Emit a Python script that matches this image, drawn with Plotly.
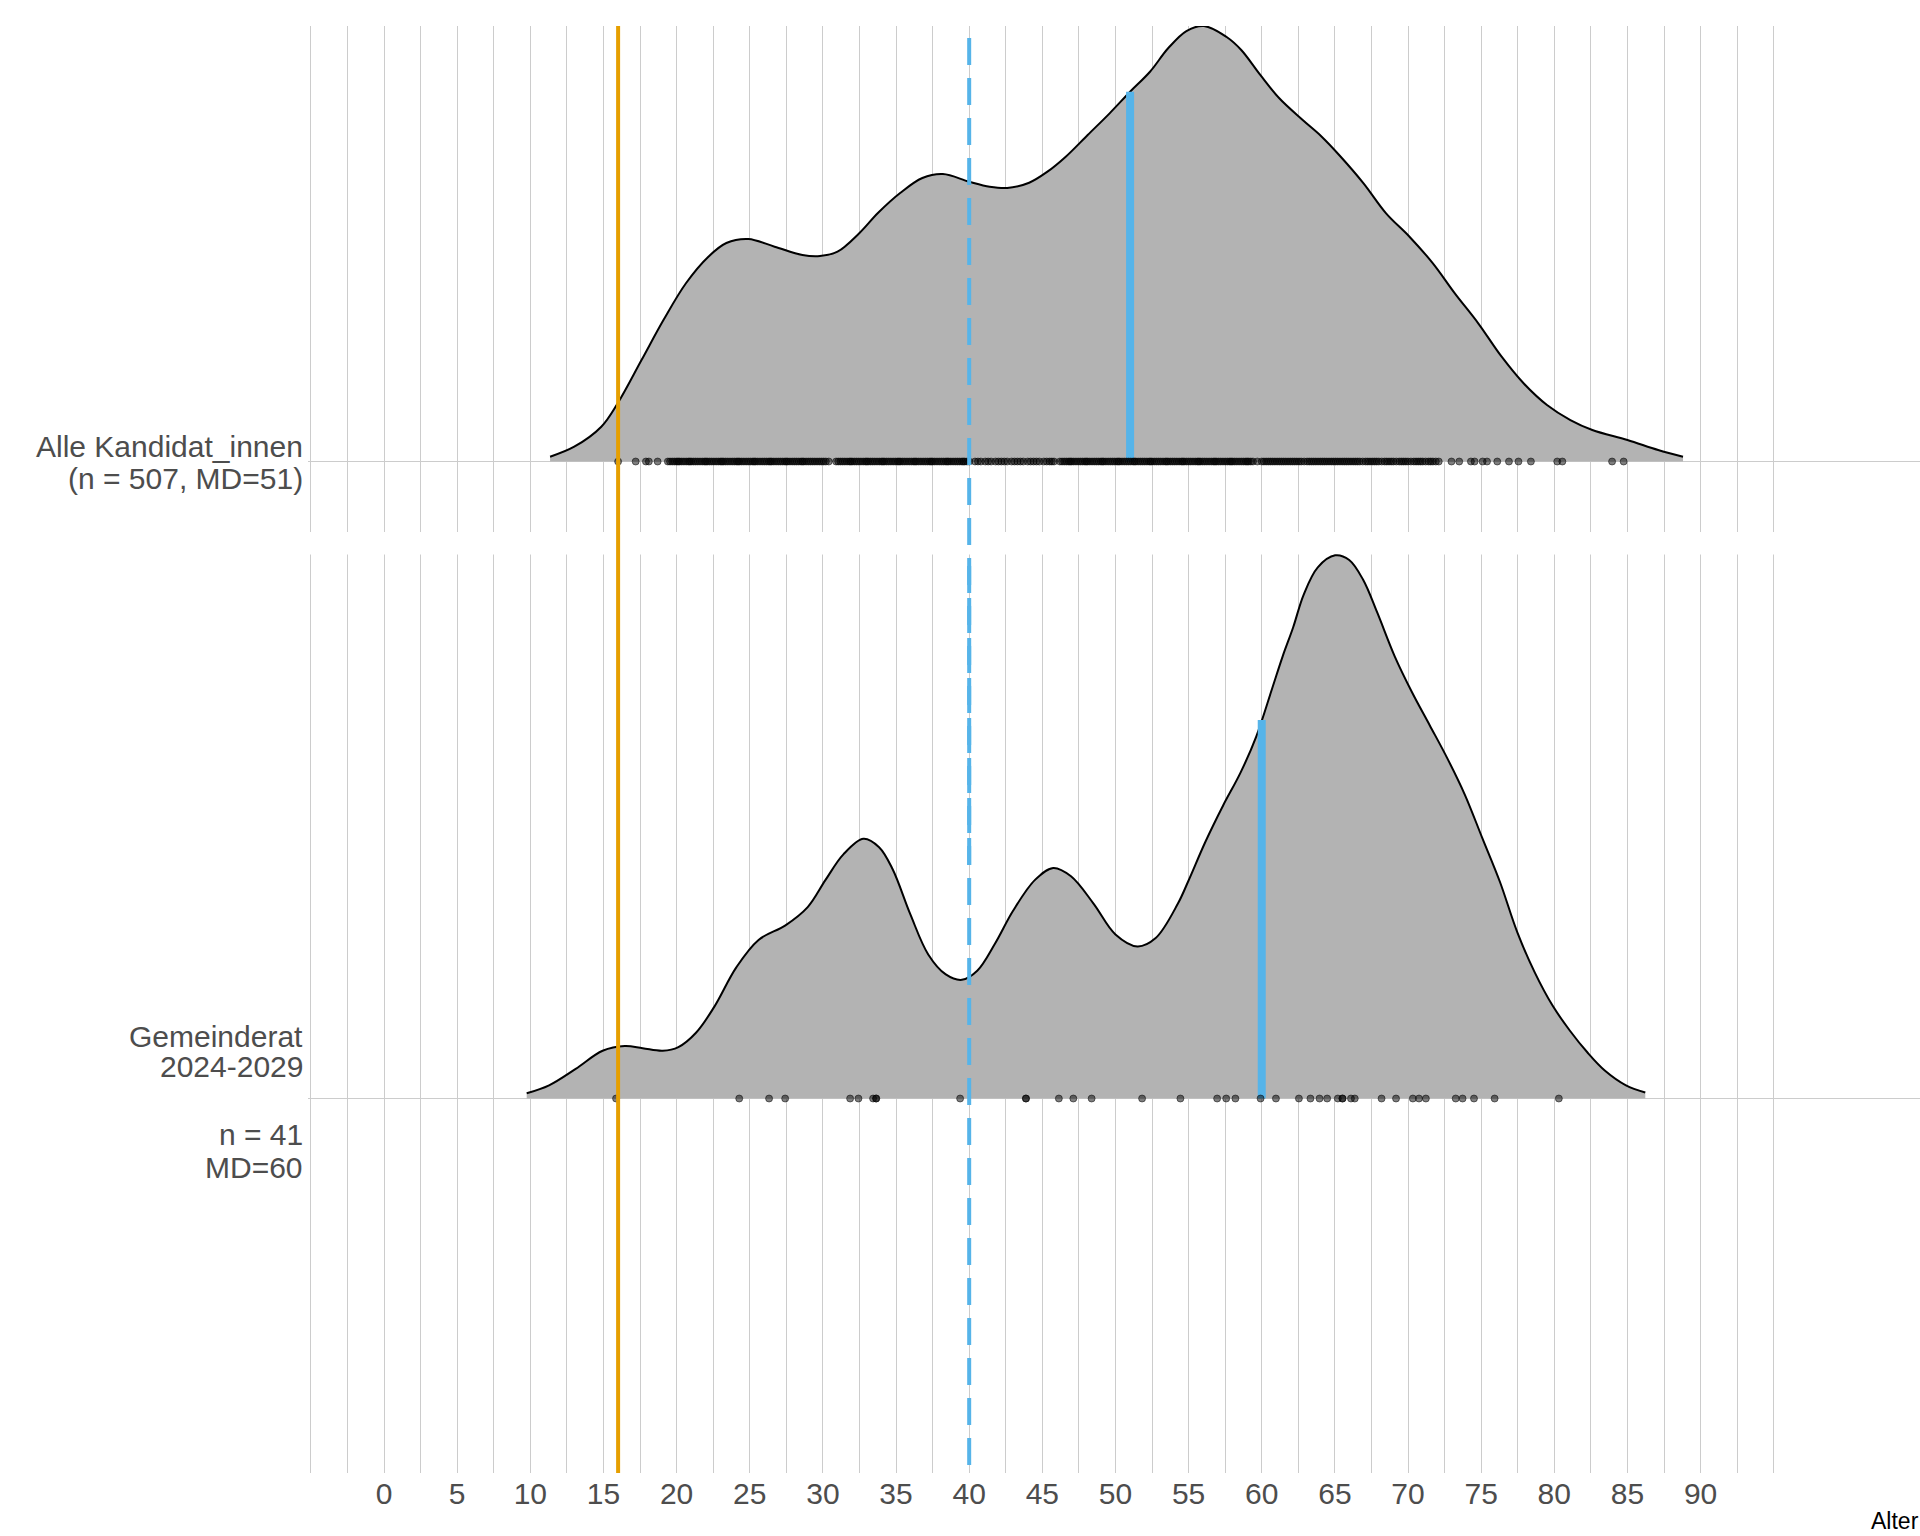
import numpy as np
import plotly.graph_objects as go

# ---------------- data ----------------
groups = ["Alle Kandidat_innen", "Gemeinderat 2024-2029"]
group_baseline = [2, 1]
label_lines_alle = ["Alle Kandidat_innen", "(n = 507, MD=51)"]
label_lines_gr = ["Gemeinderat", "2024-2029", "n = 41", "MD=60"]
label_pos_alle = [2.024, 1.974]
label_pos_gr = [1.098, 1.051, 0.943, 0.892]
medians = [51, 60]
ref_young = 16
ref_mid = 40

# density curve (ridge height in y-units) - Alle Kandidat_innen
age_alle = [11.35, 13.0, 14.85, 15.98, 17.6, 19.1, 20.65, 22.17, 23.4, 24.9, 26.7, 28.6,
            29.8, 31.0, 32.5, 33.76, 35.28, 36.8, 38.2, 40.0, 41.4, 42.6, 44.1, 45.35,
            46.6, 48.1, 49.6, 51.0, 52.36, 53.6, 54.85, 56.05, 57.6, 58.6, 59.9, 61.2,
            62.8, 64.1, 65.4, 66.96, 68.5, 70.1, 71.7, 73.2, 74.8, 76.4, 77.9, 79.5,
            81.1, 82.6, 85.0, 87.1, 88.8]
dens_alle = [0.0075, 0.0232, 0.0546, 0.0918, 0.1593, 0.2221, 0.2802, 0.3215, 0.343,
             0.3493, 0.3372, 0.3242, 0.3226, 0.3294, 0.3587, 0.3901, 0.4215, 0.4451,
             0.4513, 0.4393, 0.4314, 0.4294, 0.4377, 0.455, 0.4785, 0.5126, 0.5466,
             0.5805, 0.6119, 0.6487, 0.6758, 0.6837, 0.6664, 0.646, 0.6068, 0.5702,
             0.5361, 0.5099, 0.4785, 0.4367, 0.3896, 0.3529, 0.3111, 0.264, 0.217,
             0.1645, 0.1228, 0.0887, 0.0651, 0.0495, 0.0338, 0.0181, 0.0075]

# density curve - Gemeinderat 2024-2029
age_gr = [9.75, 11.28, 13.1, 14.94, 16.46, 17.68, 19.05, 20.12, 21.34, 22.56, 24.09,
          25.6, 27.44, 28.96, 30.18, 31.4, 32.77, 33.84, 34.76, 35.98, 37.2, 38.4, 39.5,
          40.55, 41.77, 43.0, 44.5, 45.74, 46.96, 48.5, 50.0, 51.5, 52.75, 54.27, 54.96,
          56.15, 57.36, 58.55, 59.63, 60.7, 61.43, 62.15, 62.87, 63.83, 65.02, 65.98,
          66.94, 67.9, 69.09, 70.29, 71.49, 72.68, 73.88, 75.08, 76.28, 77.48, 78.67,
          79.87, 81.07, 82.27, 83.47, 84.9, 86.22]
dens_gr = [0.0082, 0.0207, 0.0465, 0.075, 0.0824, 0.079, 0.075, 0.0807, 0.1036, 0.1435,
           0.2063, 0.249, 0.2719, 0.3005, 0.3432, 0.3832, 0.4077, 0.3945, 0.3603, 0.289,
           0.2262, 0.1948, 0.1863, 0.2005, 0.2433, 0.2947, 0.3432, 0.362, 0.349, 0.3061,
           0.2576, 0.2388, 0.252, 0.3061, 0.3403, 0.4031, 0.4601, 0.5116, 0.5686, 0.6429,
           0.6942, 0.7399, 0.7912, 0.8339, 0.8527, 0.8454, 0.814, 0.7626, 0.6942, 0.637,
           0.5857, 0.5344, 0.4772, 0.4088, 0.3403, 0.2604, 0.1976, 0.1463, 0.1064, 0.0722,
           0.0436, 0.0207, 0.0094]

# individual ages (rug points)
points_alle = [16.0, 17.2, 17.9, 18.1, 18.7,
               19.4, 19.7, 20.0, 20.2, 20.5, 20.8, 21.0, 21.3, 21.6, 21.9, 22.1, 22.4,
               22.7, 23.0, 23.2, 23.5, 23.8, 24.1, 24.3, 24.6, 24.9, 25.2, 25.4, 25.7,
               26.0, 26.3, 26.5, 26.8, 27.1, 27.4, 27.6, 27.9, 28.2, 28.5, 28.7, 29.0,
               29.3, 29.6, 29.9, 30.2, 30.4,
               30.9, 31.2, 31.5, 31.8, 32.0, 32.3, 32.6, 32.9, 33.1, 33.4, 33.7, 34.0,
               34.2, 34.5, 34.8, 35.1, 35.3, 35.6, 35.9, 36.2, 36.4, 36.7, 37.0, 37.3,
               37.5, 37.8, 38.1, 38.4, 38.6, 38.9, 39.2, 39.5, 39.7, 40.0,
               40.4, 40.8, 41.1, 41.5, 41.8, 42.2, 42.6, 42.9, 43.3, 43.7, 44.0, 44.4,
               44.8, 45.1, 45.5, 45.8,
               40.6, 41.3, 42.0, 42.4, 43.1, 43.5, 44.2, 44.6, 45.3, 45.65,
               46.2, 46.5, 46.8, 47.0, 47.3, 47.6, 47.9, 48.1, 48.4, 48.7, 49.0, 49.2,
               49.5, 49.8, 50.1, 50.3, 50.6, 50.9, 51.2, 51.4, 51.7, 52.0, 52.3, 52.5,
               52.8, 53.1, 53.4, 53.6, 53.9, 54.2, 54.5, 54.7, 55.0, 55.3, 55.6, 55.8,
               56.1, 56.4, 56.7, 56.9, 57.2, 57.5, 57.8, 58.0, 58.3, 58.6, 58.9, 59.1,
               59.4, 59.7, 60.0, 60.3, 60.6, 60.9, 61.2, 61.5, 61.8, 62.1, 62.4, 62.7,
               63.1, 63.4, 63.7, 64.0, 64.3, 64.6, 64.9, 65.2, 65.5, 65.8, 66.1, 66.4,
               66.7, 67.1, 67.4, 67.7, 68.0, 68.4, 68.7, 69.0, 69.4, 69.7, 70.0, 70.4,
               70.7, 71.0, 71.4, 71.7, 72.1,
               72.97, 73.5, 74.3, 74.55, 75.1, 75.4, 76.1, 76.9, 77.55, 78.4, 80.2, 80.55,
               83.95, 84.74,
               19.55, 19.85, 20.1, 20.35, 20.65, 20.9, 21.15, 21.45, 21.75, 22.0, 22.25,
               22.55, 22.85, 23.1, 23.35, 23.65, 23.95, 24.2, 24.45, 24.75, 25.05, 25.3,
               25.55, 25.85, 26.15, 26.4, 26.65, 26.95, 27.25, 27.5, 27.75, 28.05, 28.35,
               28.6, 28.85, 29.15, 29.45, 29.75, 30.05,
               31.05, 31.35, 31.65, 31.9, 32.15, 32.45, 32.75, 33.0, 33.25, 33.55, 33.85,
               34.1, 34.35, 34.65, 34.95, 35.2, 35.45, 35.75, 36.05, 36.3, 36.55, 36.85,
               37.15, 37.4, 37.65, 37.95, 38.25, 38.5, 38.75, 39.05, 39.35, 39.6, 39.85,
               46.35, 46.65, 46.9, 47.15, 47.45, 47.75, 48.0, 48.25, 48.55, 48.85, 49.1,
               49.35, 49.65, 49.95, 50.2, 50.45, 50.75, 51.05, 51.3, 51.55, 51.85, 52.15,
               52.4, 52.65, 52.95, 53.25, 53.5, 53.75, 54.05, 54.35, 54.6, 54.85, 55.15,
               55.45, 55.7, 55.95, 56.25, 56.55, 56.8, 57.05, 57.35, 57.65, 57.9, 58.15,
               58.45, 58.75, 59.0, 59.25,
               60.15, 60.45, 60.75, 61.05, 61.35, 61.65, 61.95, 62.25, 62.55, 62.9, 63.25,
               63.55, 63.85, 64.15, 64.45, 64.75, 65.05, 65.35, 65.65, 65.95, 66.25, 66.55,
               66.9, 67.25, 67.55, 67.85, 68.2, 68.55, 68.85, 69.2, 69.55, 69.85, 70.2,
               70.55, 70.85, 71.2, 71.55, 71.9]
points_gr = [15.86, 24.28, 26.32, 27.42, 31.86, 32.43, 33.43, 33.64, 33.64, 39.38, 43.88,
             43.88, 46.13, 47.12, 48.37, 51.82, 54.44, 56.95, 57.57, 58.2, 59.92, 60.97,
             62.54, 63.33, 63.95, 64.47, 65.2, 65.52, 65.52, 66.1, 66.36, 68.19, 69.18,
             70.33, 70.75, 71.22, 73.26, 73.73, 74.51, 75.92, 80.31]

# ---------------- styles ----------------
FONT = "Liberation Sans, Arial, sans-serif"
GRID = "#cccccc"
RIDGE_FILL = "#B3B3B3"
BLUE = "#56B4E9"
ORANGE = "#E69F00"
TXT = "#4D4D4D"

X0, X1 = -5.2, 105.0
PLOT_L, PLOT_W = 308, 1612

fig = go.Figure()

ridges = [(age_alle, dens_alle, points_alle), (age_gr, dens_gr, points_gr)]
for (xs, ds, pts), base, med in zip(ridges, group_baseline, medians):
    fig.add_trace(go.Scatter(x=[xs[0], xs[-1]], y=[base, base], mode="lines",
                             line=dict(width=0, color="rgba(0,0,0,0)"), hoverinfo="skip"))
    fig.add_trace(go.Scatter(x=xs, y=[base + d for d in ds], mode="lines", fill="tonexty",
                             fillcolor=RIDGE_FILL,
                             line=dict(color="black", width=2, shape="spline", smoothing=1.0),
                             hoverinfo="skip"))
    top = base + float(np.interp(med, xs, ds))
    fig.add_trace(go.Scatter(x=[med, med], y=[base, top], mode="lines",
                             line=dict(color=BLUE, width=8), hoverinfo="skip"))
    fig.add_trace(go.Scatter(x=pts, y=[base] * len(pts), mode="markers",
                             marker=dict(size=7, color="rgba(0,0,0,0.5)",
                                         line=dict(color="rgba(0,0,0,0.5)", width=1)),
                             hoverinfo="skip"))

# white band interrupting vertical grid lines (as in the reference)
fig.add_shape(type="rect", xref="x", yref="y", x0=-5.3, x1=95.3, y0=1.854, y1=1.8893,
              fillcolor="white", line=dict(width=0), layer="between")

# reference lines
fig.add_shape(type="line", xref="x", yref="paper", x0=ref_young, x1=ref_young, y0=1, y1=0,
              line=dict(color=ORANGE, width=4), layer="above")
fig.add_shape(type="line", xref="x", yref="paper", x0=ref_mid, x1=ref_mid, y0=0.99171, y1=0,
              line=dict(color=BLUE, width=4, dash="27px,13px"), layer="above")
fig.add_shape(type="line", xref="x", yref="paper", x0=ref_mid, x1=ref_mid,
              y0=(1473 - 566) / 1447, y1=(1473 - 865) / 1447,
              line=dict(color=BLUE, width=4, dash="27px,13px"), layer="above")

# y labels (category names), right-aligned next to the panel
label_x = (305 - PLOT_L) / PLOT_W
for lines, ys in [(label_lines_alle, label_pos_alle), (label_lines_gr, label_pos_gr)]:
    for t, yv in zip(lines, ys):
        fig.add_annotation(text=t, x=label_x, y=yv, xref="paper", yref="y", xanchor="right",
                           yanchor="middle", showarrow=False,
                           font=dict(family=FONT, size=30, color=TXT))

fig.add_annotation(text="Alter", x=1, y=-(1535 - 1473) / 1447, xref="paper", yref="paper",
                   xanchor="right", yanchor="bottom", showarrow=False, borderpad=0,
                   font=dict(family=FONT, size=23, color="black"))

grid_vals = [v / 2 for v in range(-10, 191, 5)]
grid_text = [(str(int(v)) if (v % 5 == 0 and 0 <= v <= 90) else "") for v in grid_vals]

fig.update_layout(
    width=1920, height=1536,
    margin=dict(l=PLOT_L, r=0, t=26, b=63, pad=0),
    paper_bgcolor="white", plot_bgcolor="white",
    showlegend=False,
    font=dict(family=FONT),
    xaxis=dict(range=[X0, X1], tickmode="array", tickvals=grid_vals, ticktext=grid_text,
               showgrid=True, gridcolor=GRID, gridwidth=1.2, zeroline=False, showline=False,
               ticks="", tickfont=dict(family=FONT, size=30, color=TXT), automargin=False,
               fixedrange=True),
    yaxis=dict(range=[0.4121, 2.6837], tickmode="array", tickvals=group_baseline,
               showticklabels=False, showgrid=True, gridcolor=GRID, gridwidth=1.2,
               zeroline=False, showline=False, ticks="", automargin=False, fixedrange=True),
)

fig.write_html("out.html")
